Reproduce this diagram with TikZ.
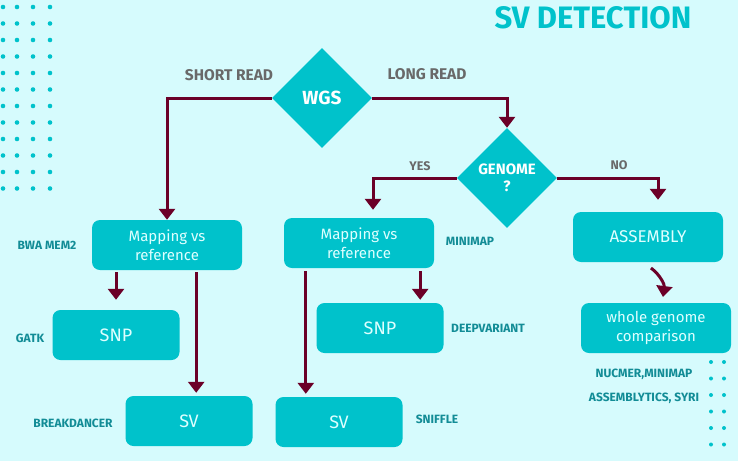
\documentclass[tikz,border=0pt]{standalone}
\usepackage{fontspec}
\setmainfont{Fira Sans}
\usetikzlibrary{shapes.geometric,arrows.meta}
\definecolor{bgcol}{RGB}{214,251,253}
\definecolor{teal}{RGB}{0,194,203}
\definecolor{wine}{RGB}{107,0,40}
\definecolor{tool}{RGB}{18,140,150}
\definecolor{ink}{RGB}{105,105,105}
\definecolor{pale}{RGB}{222,255,255}

\begin{document}
\begin{tikzpicture}[x=1pt,y=-1pt,
  box/.style={fill=teal, rounded corners=8pt, text=pale, align=center, minimum width=150pt, minimum height=50pt, font=\fontsize{15}{19}\selectfont},
  sbox/.style={box, minimum width=127pt, font=\fontsize{18}{20}\selectfont},
  dia/.style={diamond, fill=teal, aspect=1, inner sep=0pt, minimum width=100pt, minimum height=100pt, text=white, align=center, font=\bfseries\fontsize{15}{17}\selectfont},
  arr/.style={wine, line width=3pt, -{Triangle[width=16pt,length=11pt]}},
  lbl/.style={ink, font=\bfseries\fontsize{15.5}{17}\selectfont},
  soft/.style={tool, font=\bfseries\fontsize{12}{14}\selectfont},
  dot/.style={fill=teal}]

\fill[bgcol] (0,0) rectangle (738,461);

% dots
\foreach \i in {0,...,11}
  \foreach \xx in {3,17,33,50}
    \fill[dot] (\xx,7+16.5*\i) circle (2.3);
\foreach \i in {0,...,5}
  \foreach \xx in {711,724}
    \fill[dot] (\xx,362+16.5*\i) circle (2);

\node[teal, font=\bfseries\fontsize{31}{34}\selectfont] (title) at (593,18) {SV DETECTION};

\node[dia, font=\bfseries\fontsize{19}{21}\selectfont] (wgs) at (322,98) {WGS};
\node[dia] (genome) at (507,178) {GENOME\\?};

\node[box] (map1) at (167,245) {Mapping vs\\reference};
\node[box] (map2) at (359,243) {Mapping vs\\reference};
\node[box, font=\fontsize{17}{19}\selectfont] (asm) at (648,237) {ASSEMBLY};
\node[sbox] (snp1) at (116,335) {SNP};
\node[sbox] (snp2) at (380,328) {SNP};
\node[box] (wgc) at (656,328) {whole genome\\comparison};
\node[sbox] (sv1) at (189,421) {SV};
\node[sbox] (sv2) at (339,422) {SV};

\node[lbl] (short) at (229,75) {SHORT READ};
\node[lbl] (long) at (427,74) {LONG READ};
\node[lbl, font=\bfseries\fontsize{12.5}{14}\selectfont] (yes) at (420,166) {YES};
\node[lbl, font=\bfseries\fontsize{12.5}{14}\selectfont] (no) at (619,165) {NO};

\node[soft] (bwa) at (47,245) {BWA MEM2};
\node[soft] (gatk) at (30,338) {GATK};
\node[soft] (bkd) at (73,423) {BREAKDANCER};
\node[soft] (mini) at (470,241) {MINIMAP};
\node[soft] (deep) at (488,328) {DEEPVARIANT};
\node[soft] (snf) at (437,419) {SNIFFLE};
\node[soft] (nuc) at (644,374) {NUCMER,MINIMAP};
\node[soft] (syri) at (644,398) {ASSEMBLYTICS, SYRI};

% connectors
\draw[arr] (wgs.west) -| (map1.north);
\draw[arr] (wgs.east) -| (genome.north);
\draw[arr] (genome.west) -| ([xshift=14pt,yshift=8pt]map2.north);
\draw[arr] (genome.east) -| ([xshift=10pt,yshift=12pt]asm.north);

\draw[arr, shorten <=2pt, shorten >=10pt] (map1.south -| snp1.north) -- (snp1.north);
\draw[arr, shorten <=2pt, shorten >=3pt] ([xshift=-46pt]map1.south east) -- ([xshift=-46pt]map1.south east |- sv1.north);
\draw[arr, shorten <=3pt, shorten >=3pt] ([xshift=22pt]map2.south west) -- ([xshift=22pt]map2.south west |- sv2.north);
\draw[arr, shorten <=3pt, shorten >=3pt] ([xshift=-14pt]map2.south east) -- ([xshift=-14pt]map2.south east |- snp2.north);

\coordinate (c1) at (651,268);
\coordinate (c2) at (663,297);
\draw[arr] (c1) to[bend left=30] (c2);

\end{tikzpicture}
\end{document}
